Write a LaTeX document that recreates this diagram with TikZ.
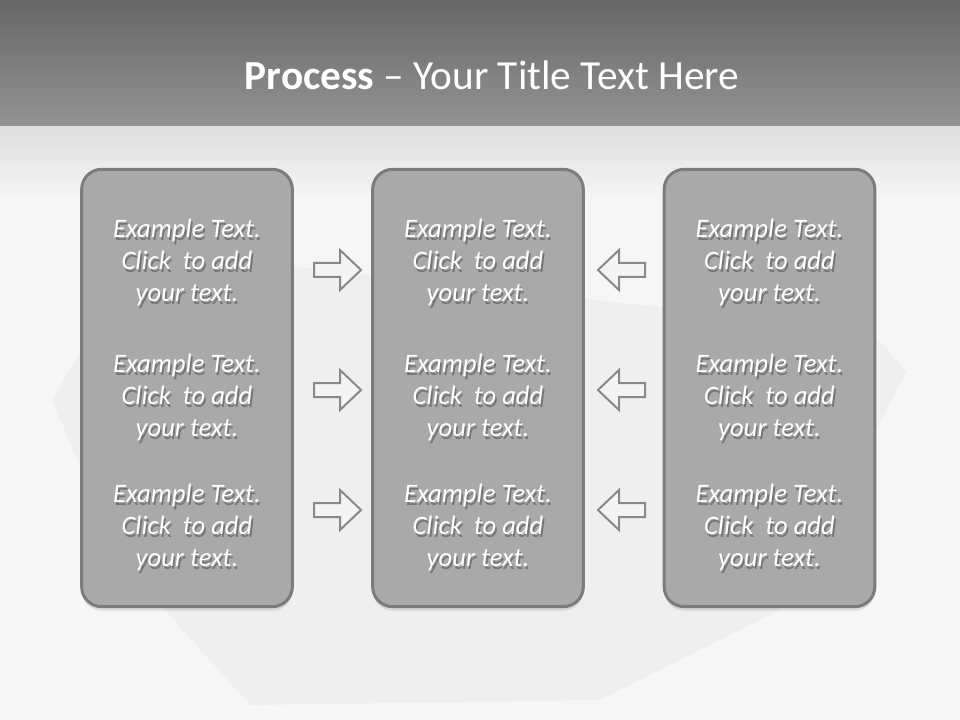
\documentclass[tikz,border=0pt]{standalone}
\usepackage{fontspec}
\setmainfont{Carlito}
\usepackage{tikz}
\usetikzlibrary{shadows}
\definecolor{Band1}{RGB}{103,103,103}
\definecolor{Band2}{RGB}{147,147,147}
\definecolor{Haze}{RGB}{222,222,222}
\definecolor{Paper}{RGB}{246,246,246}
\definecolor{Ghost}{RGB}{239,239,239}
\definecolor{Pane}{RGB}{169,169,169}
\definecolor{PaneRim}{RGB}{124,124,124}
\definecolor{Pointer}{RGB}{244,244,244}
\definecolor{Shade}{RGB}{118,118,118}
\newcommand{\shtext}[1]{\rlap{\kern1.2pt\raisebox{-1.8pt}{\color{Shade}#1}}#1}
\newcommand{\exampletext}{\shtext{Example Text.}\\\shtext{Click~ to add}\\\shtext{your text.}}

\begin{document}
\begin{tikzpicture}[x=0.75pt,y=-0.75pt,
    pane/.style={draw=PaneRim,fill=Pane,line width=2.25pt,rounded corners=15pt,
                 minimum width=158pt,minimum height=328pt,
                 drop shadow={opacity=0.22,shadow xshift=0pt,shadow yshift=-3pt}},
    txt/.style={text=white,align=center,font=\itshape\fontsize{20}{24}\selectfont},
    pointer/.style={draw=PaneRim!90,fill=Pointer,line width=1.5pt,line join=miter}]
    \useasboundingbox (0,0) rectangle (960,720);
    % background
    \fill[Paper] (0,0) rectangle (960,720);
    \fill[Ghost] (52,400) -- (140,250) -- (870,330) -- (906,372) -- (850,480)
                 -- (780,610) -- (600,700) -- (250,705) -- (120,560) -- cycle;
    \shade[top color=Haze,bottom color=Paper] (0,124) rectangle (960,200);
    \shade[top color=Band1,bottom color=Band2] (0,0) rectangle (960,126);
    \node[text=white,font=\fontsize{31}{37}\selectfont] (title) at (492,75)
        {\textbf{Process} -- Your Title Text Here};
    % panes with their texts
    \foreach \col/\cx in {L/187,M/478,R/769.5}{
        \node[pane] (box\col) at (\cx,388) {};
        \foreach \row/\cy in {1/264,2/399,3/529}{
            \node[txt] (t\col\row) at (\cx,\cy) {\exampletext};
        }
    }
    % block arrows
    \foreach \y in {270,390,510}{
        \draw[pointer] (314,{\y-7}) -- (340,{\y-7}) -- (340,{\y-20}) -- (361,\y)
            -- (340,{\y+20}) -- (340,{\y+7}) -- (314,{\y+7}) -- cycle;
        \draw[pointer] (645,{\y-7}) -- (619,{\y-7}) -- (619,{\y-20}) -- (598,\y)
            -- (619,{\y+20}) -- (619,{\y+7}) -- (645,{\y+7}) -- cycle;
    }
\end{tikzpicture}
\end{document}
